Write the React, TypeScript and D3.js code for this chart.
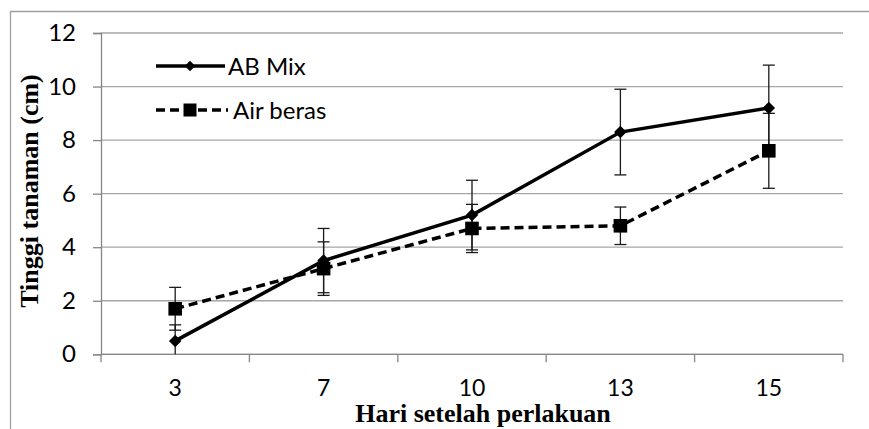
import React, { useRef, useEffect } from 'react';
import * as d3 from 'd3';

const days = ['3', '7', '10', '13', '15'];
const abMix = [0.5, 3.5, 5.2, 8.3, 9.2];
const abMixErr = [0.6, 1.2, 1.3, 1.6, 1.6];
const airBeras = [1.7, 3.2, 4.7, 4.8, 7.6];
const airBerasErr = [0.8, 1.0, 0.9, 0.7, 1.4];
const yTicks = [0, 2, 4, 6, 8, 10, 12];

const App = () => {
  const chartRef = useRef<SVGSVGElement | null>(null);

  useEffect(() => {
    const width = 869;
    const height = 429;
    // plot area
    const left = 101;
    const right = 843;
    const top = 33;
    const bottom = 354.3;
    const fontSans = 'Lato, sans-serif';

    const svg = d3.select(chartRef.current);
    svg.selectAll('*').remove();

    // outer chart border (cropped on right/bottom)
    svg
      .append('path')
      .attr('d', `M10.5,${height} L10.5,11.5 L${width},11.5`)
      .attr('fill', 'none')
      .attr('stroke', '#a0a0a0')
      .attr('stroke-width', 1.3);

    const x = d3.scaleBand().domain(days).range([left, right]);
    const y = d3.scaleLinear().domain([0, 12]).range([bottom, top]);
    const cx = (d: string) => (x(d) as number) + x.bandwidth() / 2;

    // gridlines
    svg
      .append('g')
      .selectAll('line')
      .data(yTicks)
      .join('line')
      .attr('x1', left)
      .attr('x2', right)
      .attr('y1', (d) => y(d))
      .attr('y2', (d) => y(d))
      .attr('stroke', '#a6a6a6')
      .attr('stroke-width', 1.3);

    // y axis
    svg
      .append('g')
      .attr('transform', `translate(${left},0)`)
      .call(d3.axisLeft(y).tickValues(yTicks).tickSize(8).tickPadding(17))
      .call((g) => g.select('.domain').attr('stroke', '#868686').attr('stroke-width', 1.3))
      .call((g) => g.selectAll('.tick line').attr('stroke', '#868686').attr('stroke-width', 1.3))
      .call((g) =>
        g
          .selectAll('text')
          .attr('fill', '#000')
          .attr('font-family', fontSans)
          .attr('font-size', '24px')
      );

    // x axis: ticks between categories
    const xAxis = svg.append('g').attr('transform', `translate(0,${bottom})`);
    xAxis
      .append('line')
      .attr('x1', left)
      .attr('x2', right)
      .attr('stroke', '#868686')
      .attr('stroke-width', 1.3);
    const bounds = days.map((d) => x(d) as number).concat([right]);
    xAxis
      .selectAll('line.tk')
      .data(bounds)
      .join('line')
      .attr('class', 'tk')
      .attr('x1', (d) => d)
      .attr('x2', (d) => d)
      .attr('y1', 0)
      .attr('y2', 8)
      .attr('stroke', '#868686')
      .attr('stroke-width', 1.3);
    xAxis
      .selectAll('text')
      .data(days)
      .join('text')
      .attr('x', (d) => cx(d))
      .attr('y', 42)
      .attr('text-anchor', 'middle')
      .attr('font-family', fontSans)
      .attr('font-size', '23px')
      .text((d) => d);

    // error bars
    const drawErr = (vals: number[], errs: number[]) => {
      const g = svg.append('g').attr('stroke', '#1a1a1a').attr('stroke-width', 1.3);
      days.forEach((d, i) => {
        const hi = y(Math.min(12, vals[i] + errs[i]));
        const lo = y(Math.max(0, vals[i] - errs[i]));
        g.append('line').attr('x1', cx(d)).attr('x2', cx(d)).attr('y1', hi).attr('y2', lo);
        g.append('line').attr('x1', cx(d) - 6).attr('x2', cx(d) + 6).attr('y1', hi).attr('y2', hi);
        if (vals[i] - errs[i] > 0)
          g.append('line').attr('x1', cx(d) - 6).attr('x2', cx(d) + 6).attr('y1', lo).attr('y2', lo);
      });
    };
    drawErr(abMix, abMixErr);
    drawErr(airBeras, airBerasErr);

    const line = d3
      .line<number>()
      .x((_, i) => cx(days[i]))
      .y((d) => y(d));

    svg
      .append('path')
      .datum(airBeras)
      .attr('fill', 'none')
      .attr('stroke', '#000')
      .attr('stroke-width', 3.5)
      .attr('stroke-dasharray', '9,5')
      .attr('d', line);

    svg
      .append('path')
      .datum(abMix)
      .attr('fill', 'none')
      .attr('stroke', '#000')
      .attr('stroke-width', 3.5)
      .attr('d', line);

    const diamond = d3.symbol().type(d3.symbolDiamond2).size(100);
    svg
      .append('g')
      .selectAll('path')
      .data(abMix)
      .join('path')
      .attr('transform', (d, i) => `translate(${cx(days[i])},${y(d)})`)
      .attr('d', diamond())
      .attr('fill', '#000');

    svg
      .append('g')
      .selectAll('rect')
      .data(airBeras)
      .join('rect')
      .attr('x', (d, i) => cx(days[i]) - 6.8)
      .attr('y', (d) => y(d) - 6.8)
      .attr('width', 13.6)
      .attr('height', 13.6)
      .attr('fill', '#000');

    // legend
    const lg = svg.append('g');
    lg.append('line')
      .attr('x1', 156).attr('x2', 225).attr('y1', 66).attr('y2', 66)
      .attr('stroke', '#000').attr('stroke-width', 3.5);
    lg.append('path')
      .attr('transform', 'translate(190,66)')
      .attr('d', d3.symbol().type(d3.symbolDiamond2).size(70)())
      .attr('fill', '#000');
    lg.append('text')
      .attr('x', 228).attr('y', 74.5)
      .attr('font-family', fontSans).attr('font-size', '24px')
      .text('AB Mix');
    lg.append('line')
      .attr('x1', 156).attr('x2', 228).attr('y1', 110).attr('y2', 110)
      .attr('stroke', '#000').attr('stroke-width', 3.5).attr('stroke-dasharray', '9,5');
    lg.append('rect')
      .attr('x', 183.5).attr('y', 103.5).attr('width', 13).attr('height', 13)
      .attr('fill', '#000');
    lg.append('text')
      .attr('x', 233).attr('y', 118.5)
      .attr('font-family', fontSans).attr('font-size', '24px')
      .text('Air beras');

    // axis titles
    svg
      .append('text')
      .attr('x', 483)
      .attr('y', 422)
      .attr('text-anchor', 'middle')
      .attr('font-family', '"Liberation Serif", serif')
      .attr('font-weight', 'bold')
      .attr('font-size', '26px')
      .text('Hari setelah perlakuan');

    svg
      .append('text')
      .attr('transform', 'translate(38,191) rotate(-90)')
      .attr('text-anchor', 'middle')
      .attr('font-family', '"Liberation Serif", serif')
      .attr('font-weight', 'bold')
      .attr('font-size', '26px')
      .text('Tinggi tanaman (cm)');
  }, []);

  return (
    <div style={{ position: 'absolute', left: 0, top: 0 }}>
      <svg ref={chartRef} width={869} height={429} style={{ display: 'block', background: '#fff' }} />
    </div>
  );
};

export default App;
